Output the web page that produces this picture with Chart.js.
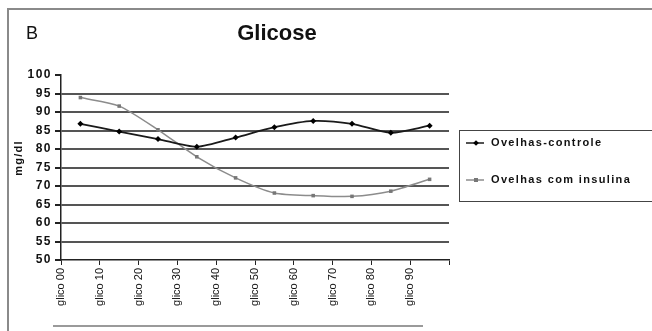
<!DOCTYPE html>
<html><head><meta charset="utf-8">
<script src="https://cdn.jsdelivr.net/npm/chart.js@4.4.1/dist/chart.umd.min.js"></script>
<style>
html,body{margin:0;padding:0;background:#fff;}
#wrap{position:relative;width:652px;height:331px;overflow:hidden;font-family:"Liberation Sans",Arial,sans-serif;}
#frame{position:absolute;left:7px;top:8px;width:700px;height:400px;border-top:2px solid #8a8a8a;border-left:2px solid #8a8a8a;}
canvas{position:absolute;left:0;top:0;}
#lblB{position:absolute;left:26px;top:23px;font-size:18px;color:#111;}
#title{position:absolute;left:177px;width:200px;text-align:center;top:20px;font-size:22px;font-weight:bold;color:#111;}
#ytitle{position:absolute;left:-12px;top:152px;width:60px;text-align:center;font-size:11px;font-weight:bold;letter-spacing:1.2px;color:#111;transform:rotate(-90deg);}
#legend{position:absolute;left:459px;top:130px;width:220px;height:70px;border:1.5px solid #444;}
.li{position:absolute;left:6px;font-size:11px;font-weight:bold;letter-spacing:1.35px;color:#111;white-space:nowrap;}
.li canvas{position:relative;vertical-align:middle;margin-right:7px;}
#uline{position:absolute;left:53px;top:325px;width:370px;height:2px;background:#9a9a9a;}
</style></head>
<body><div id="wrap">
<div id="frame"></div>
<canvas id="c" width="652" height="331"></canvas>
<div id="lblB">B</div>
<div id="title">Glicose</div>
<div id="ytitle">mg/dl</div>
<div id="legend"></div>
<div id="uline"></div>
</div>
<script>
const categories = ["glico 00","glico 10","glico 20","glico 30","glico 40","glico 50","glico 60","glico 70","glico 80","glico 90"];
const controle = [86.8, 84.7, 82.7, 80.6, 83.1, 85.9, 87.6, 86.8, 84.4, 86.3];
const insulina = [93.9, 91.6, 85.2, 77.9, 72.2, 68.1, 67.4, 67.2, 68.6, 71.8];
const seriesNames = ["Ovelhas-controle", "Ovelhas com insulina"];
const yTicks = [50,55,60,65,70,75,80,85,90,95,100];

const toPts = arr => arr.map((v,i)=>({x:i+0.5,y:v}));
const FONT = "'Liberation Sans', Arial, sans-serif";

function spaced(px){
  return s=>{
    if(s._spaced) return;
    const orig=s.drawLabels.bind(s);
    s.drawLabels=ca=>{s.ctx.save();s.ctx.letterSpacing=px;orig(ca);s.ctx.restore();};
    s._spaced=true;
  };
}

const chart = new Chart(document.getElementById('c'), {
  type:'line',
  data:{datasets:[
    {label:seriesNames[0],data:toPts(controle),borderColor:'#1a1a1a',backgroundColor:'#000',borderWidth:1.8,
     pointStyle:'rectRot',pointRadius:3,pointBorderWidth:0,tension:0.25},
    {label:seriesNames[1],data:toPts(insulina),borderColor:'#8c8c8c',backgroundColor:'#777',borderWidth:1.5,
     pointStyle:'rect',pointRadius:2.5,pointBorderWidth:0,tension:0.25}
  ]},
  options:{
    responsive:false,animation:false,
    layout:{padding:{left:0,top:75,right:203,bottom:0}},
    plugins:{legend:{display:false},tooltip:{enabled:false}},
    scales:{
      x:{type:'linear',min:0,max:10,
        afterFit:s=>{s.height=71;},
        afterBuildTicks:s=>{s.ticks=Array.from({length:11},(_,i)=>({value:i}));},
        ticks:{autoSkip:false,maxRotation:90,minRotation:90,padding:3,color:'#111',
          font:{family:FONT,size:11},callback:v=>categories[v]||''},
        grid:{drawOnChartArea:false,tickLength:5,color:'#222',lineWidth:1},
        border:{color:'#222',width:1.5}},
      y:{min:50,max:100,
        afterFit:s=>{s.width=61;},
        afterUpdate:spaced('1.5px'),
        afterBuildTicks:s=>{s.ticks=yTicks.map(v=>({value:v}));},
        ticks:{padding:3,color:'#111',font:{family:FONT,size:12,weight:'bold'}},
        grid:{tickLength:6,tickColor:'#222',lineWidth:2,
          color:c=>(c.tick&&(c.tick.value===100||c.tick.value===50))?'rgba(0,0,0,0)':'#555'},
        border:{color:'#222',width:1.5}}
    }
  }
});

// HTML legend built from the datasets
const leg = document.getElementById('legend');
chart.data.datasets.forEach((ds,i)=>{
  const row=document.createElement('div');
  row.className='li';row.style.top=(i===0?4:41)+'px';
  const mk=document.createElement('canvas');mk.width=18;mk.height=16;
  const g=mk.getContext('2d');
  g.strokeStyle=ds.borderColor;g.lineWidth=1.5;g.beginPath();g.moveTo(0,8);g.lineTo(18,8);g.stroke();
  g.fillStyle=ds.backgroundColor;g.save();g.translate(10,8);
  if(ds.pointStyle==='rectRot'){g.rotate(Math.PI/4);g.fillRect(-2,-2,4,4);}else{g.fillRect(-2,-2,4,4);}
  g.restore();
  row.appendChild(mk);
  row.appendChild(document.createTextNode(ds.label));
  leg.appendChild(row);
});
</script>
</body></html>
